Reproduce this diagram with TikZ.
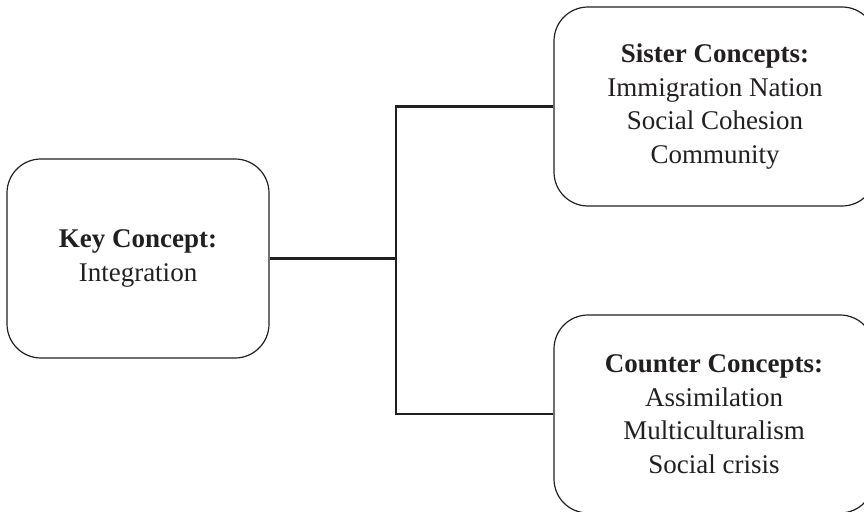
\documentclass[tikz,border=0pt]{standalone}
\usepackage{fontspec}
\setmainfont{Liberation Serif}
\definecolor{ink}{HTML}{231F20}
\begin{document}
\begin{tikzpicture}[x=1pt,y=-1pt,
  concept/.style={draw=ink, line width=1.2pt, rounded corners=34pt, inner sep=0pt,
    align=center, text=ink, font=\fontsize{27}{33.5}\selectfont},
  link/.style={draw=ink, line width=2.2pt}]
\clip (0,0) rectangle (864,511);
\node[concept, minimum width=262pt, minimum height=199pt] (key) at (138,258.5)
  {\textbf{Key Concept:}\\Integration};
\node[concept, minimum width=322pt, minimum height=199pt] (sister) at (715,106.5)
  {\textbf{Sister Concepts:}\\Immigration Nation\\Social Cohesion\\Community};
\node[concept, minimum width=320pt, minimum height=198pt] (counter) at (714,414)
  {\textbf{Counter Concepts:}\\Assimilation\\Multiculturalism\\Social crisis};
\coordinate (j) at (396,258.5);
\draw[link] (key.east) -- (j);
\draw[link] (sister.west) -| (j);
\draw[link] (counter.west) -| (j);
\end{tikzpicture}
\end{document}
